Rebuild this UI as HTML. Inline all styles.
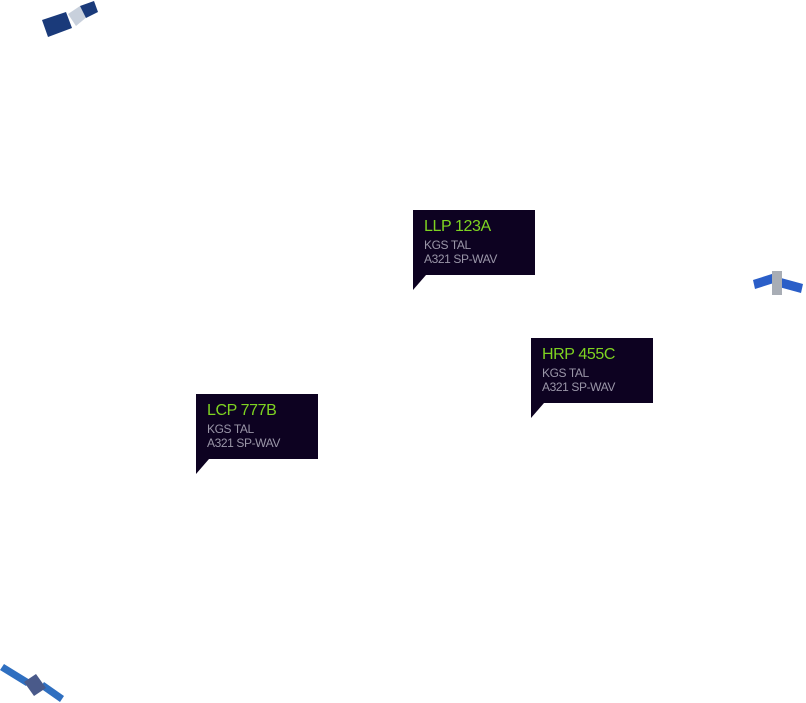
<!DOCTYPE html>
<html><head><style>
body{margin:0;width:806px;height:703px;background:#fff;position:relative;overflow:hidden;font-family:"Liberation Sans",sans-serif}
.b{position:absolute;width:122px;height:65px;background:#0d0221}
.b:after{content:"";position:absolute;left:0;top:65px;border-top:15px solid #0d0221;border-right:13px solid transparent}
.t{position:absolute;left:11px;top:8px;color:#7ed321;font-size:16px;letter-spacing:-0.4px}
.s{position:absolute;left:11px;top:28px;color:#9a96a8;font-size:12px;line-height:14px;letter-spacing:-0.4px}
svg{position:absolute}
</style></head><body>
<div class="b" style="left:413px;top:210px"><div class="t">LLP 123A</div><div class="s">KGS TAL<br>A321 SP-WAV</div></div>
<div class="b" style="left:531px;top:338px"><div class="t">HRP 455C</div><div class="s">KGS TAL<br>A321 SP-WAV</div></div>
<div class="b" style="left:196px;top:394px"><div class="t">LCP 777B</div><div class="s">KGS TAL<br>A321 SP-WAV</div></div>
<svg style="left:40px;top:0" width="60" height="40"><polygon points="2,20 26,12 32,28 8,37" fill="#1a3a7a"/><polygon points="28,14 40,6 48,16 36,26" fill="#c8d0dc"/><polygon points="40,6 54,1 58,12 46,18" fill="#1a3a7a"/></svg>
<svg style="left:750px;top:265px" width="56" height="35"><polygon points="3,15 25,8 27,17 5,24" fill="#2a5ec8"/><polygon points="31,13 53,19 51,28 29,22" fill="#2a5ec8"/><rect x="22" y="6" width="10" height="24" fill="#a8adb5"/></svg>
<svg style="left:0;top:660px" width="66" height="43"><polygon points="0,10 4,4 30,20 26,26" fill="#2f6fc0"/><polygon points="40,28 44,22 64,36 60,42" fill="#2f6fc0"/><polygon points="24,22 36,14 46,28 34,36" fill="#4a5a8a"/></svg>
</body></html>
